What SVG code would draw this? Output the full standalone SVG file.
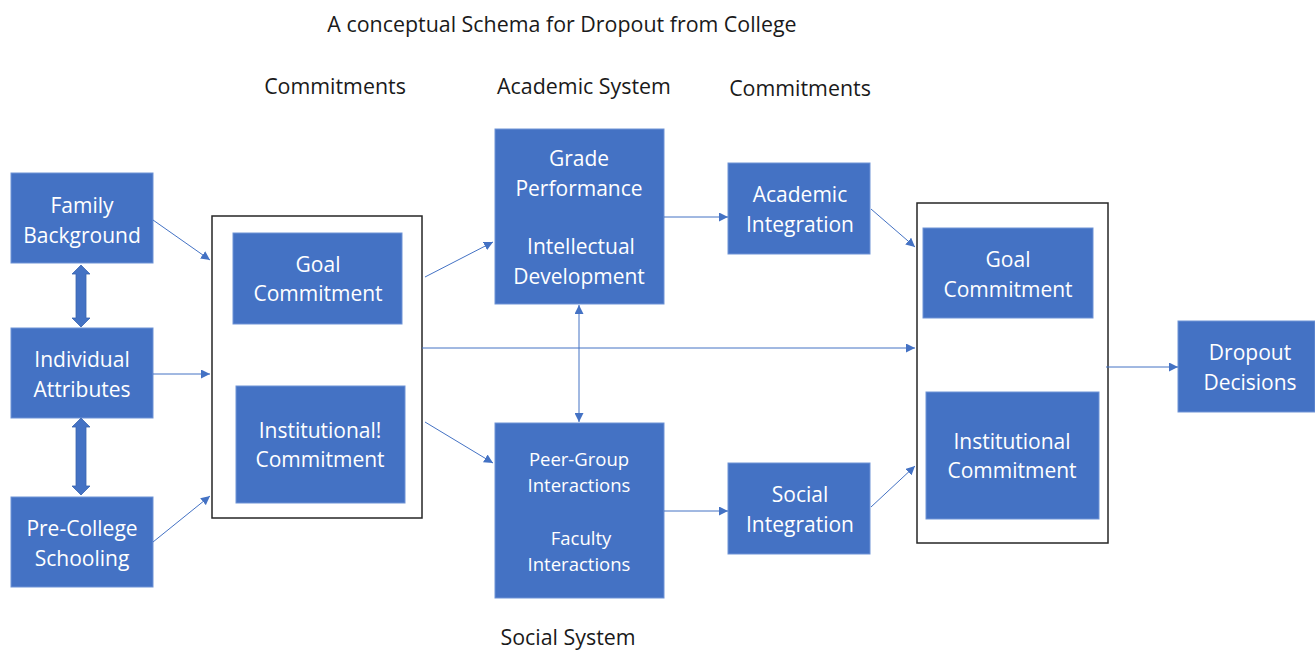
<svg xmlns="http://www.w3.org/2000/svg" width="1315" height="652" viewBox="0 0 1315 652">
<style>
.node rect.b{fill:#4472C4;stroke:#6E93D6;stroke-width:1}
.frame{fill:none;stroke:#262626;stroke-width:1.5}
.t{font-family:"Open Sans","Liberation Sans",sans-serif;fill:#fff;text-anchor:middle;font-size:21px}
.s{font-size:18.5px}
.h{font-family:"Open Sans","Liberation Sans",sans-serif;fill:#1a1a1a;text-anchor:middle;font-size:21.4px}
.c{stroke:#4472C4;stroke-width:1;fill:none}
.dbl{fill:#4472C4;stroke:#3A64B0;stroke-width:0.8}
</style>
<defs>
<marker id="ah" viewBox="0 0 10 10" refX="10" refY="5" markerWidth="9" markerHeight="9" markerUnits="userSpaceOnUse" orient="auto-start-reverse">
<path d="M0,0 L10,5 L0,10 z" fill="#4472C4"/>
</marker>
</defs>
<rect width="1315" height="652" fill="#fff"/>
<g id="titles">
<text class="h" x="562" y="32">A conceptual Schema for Dropout from College</text>
<text class="h" x="335" y="94">Commitments</text>
<text class="h" x="584" y="94">Academic System</text>
<text class="h" x="800" y="96">Commitments</text>
<text class="h" x="568" y="645">Social System</text>
</g>
<g id="family" class="node"><rect class="b" x="11" y="173" width="142" height="90"/>
<text class="t" x="82" y="213">Family</text><text class="t" x="82" y="243">Background</text></g>
<g id="individual" class="node"><rect class="b" x="11" y="328" width="142" height="90"/>
<text class="t" x="82" y="367">Individual</text><text class="t" x="82" y="397">Attributes</text></g>
<g id="precollege" class="node"><rect class="b" x="11" y="497" width="142" height="90"/>
<text class="t" x="82" y="536">Pre-College</text><text class="t" x="82" y="566">Schooling</text></g>
<g id="commit1" class="node">
<rect class="frame" x="212" y="216" width="210" height="302"/>
<rect class="b" x="233" y="233" width="169" height="91"/>
<text class="t" x="318" y="272">Goal</text><text class="t" x="318" y="301">Commitment</text>
<rect class="b" x="236" y="386" width="169" height="117"/>
<text class="t" x="320" y="438">Institutional!</text><text class="t" x="320" y="467">Commitment</text>
</g>
<g id="academic" class="node"><rect class="b" x="495" y="129" width="169" height="175"/>
<text class="t" x="579" y="166">Grade</text><text class="t" x="579" y="196">Performance</text>
<text class="t" x="581" y="254">Intellectual</text><text class="t" x="579" y="284">Development</text></g>
<g id="social" class="node"><rect class="b" x="495" y="423" width="169" height="175"/>
<text class="t s" x="579" y="466">Peer-Group</text><text class="t s" x="579" y="492">Interactions</text>
<text class="t s" x="581" y="545">Faculty</text><text class="t s" x="579" y="571">Interactions</text></g>
<g id="acadint" class="node"><rect class="b" x="728" y="163" width="142" height="91"/>
<text class="t" x="800" y="202">Academic</text><text class="t" x="800" y="232">Integration</text></g>
<g id="socint" class="node"><rect class="b" x="728" y="463" width="142" height="91"/>
<text class="t" x="800" y="502">Social</text><text class="t" x="800" y="532">Integration</text></g>
<g id="commit2" class="node">
<rect class="frame" x="917" y="203" width="191" height="340"/>
<rect class="b" x="923" y="228" width="170" height="90"/>
<text class="t" x="1008" y="267">Goal</text><text class="t" x="1008" y="297">Commitment</text>
<rect class="b" x="926" y="392" width="173" height="127"/>
<text class="t" x="1012" y="449">Institutional</text><text class="t" x="1012" y="478">Commitment</text>
</g>
<g id="dropout" class="node"><rect class="b" x="1178" y="321" width="137" height="91"/>
<text class="t" x="1250" y="360">Dropout</text><text class="t" x="1250" y="390">Decisions</text></g>
<g id="connectors">
<polygon class="dbl" points="81,265 90,274 86,274 86,318 90,318 81,327 72,318 76,318 76,274 72,274"/>
<polygon class="dbl" points="81,418 90,427 86,427 86,486 90,486 81,495 72,486 76,486 76,427 72,427"/>
<line class="c" x1="153" y1="220" x2="210" y2="260" marker-end="url(#ah)"/>
<line class="c" x1="153" y1="374" x2="210" y2="374" marker-end="url(#ah)"/>
<line class="c" x1="153" y1="542" x2="210" y2="496" marker-end="url(#ah)"/>
<line class="c" x1="425" y1="277" x2="493" y2="242" marker-end="url(#ah)"/>
<line class="c" x1="425" y1="422" x2="493" y2="463" marker-end="url(#ah)"/>
<line class="c" x1="422" y1="348" x2="915" y2="348" marker-end="url(#ah)"/>
<line class="c" x1="579" y1="305" x2="579" y2="422" marker-start="url(#ah)" marker-end="url(#ah)"/>
<line class="c" x1="664" y1="217" x2="728" y2="217" marker-end="url(#ah)"/>
<line class="c" x1="664" y1="511" x2="728" y2="511" marker-end="url(#ah)"/>
<line class="c" x1="871" y1="209" x2="915" y2="247" marker-end="url(#ah)"/>
<line class="c" x1="871" y1="507" x2="915" y2="466" marker-end="url(#ah)"/>
<line class="c" x1="1106" y1="367" x2="1178" y2="367" marker-end="url(#ah)"/>
</g>
</svg>
